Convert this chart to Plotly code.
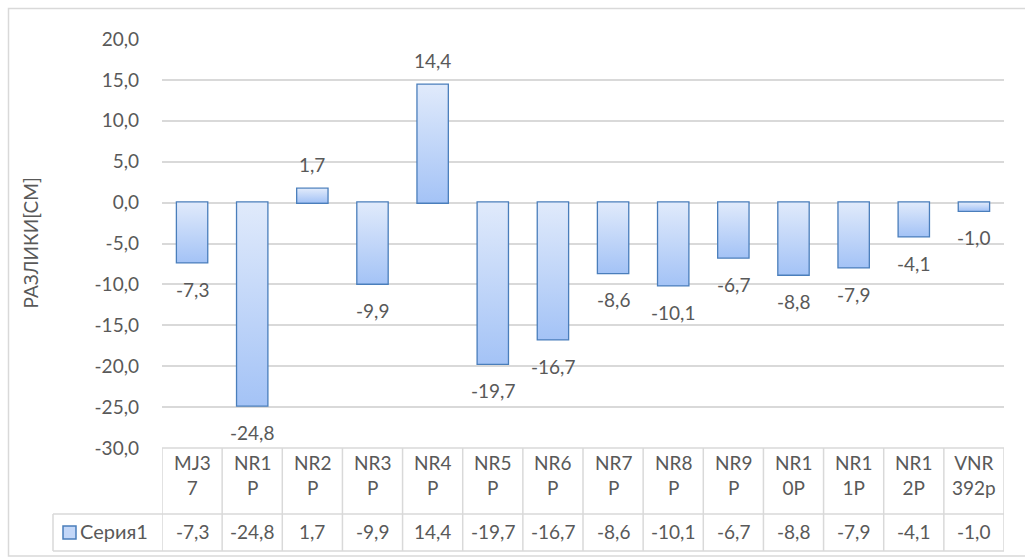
import plotly.graph_objects as go

# ---- data ----
categories = ["MJ37", "NR1P", "NR2P", "NR3P", "NR4P", "NR5P", "NR6P",
              "NR7P", "NR8P", "NR9P", "NR10P", "NR11P", "NR12P", "VNR392p"]
header_labels = ["MJ3<br>7", "NR1<br>P", "NR2<br>P", "NR3<br>P", "NR4<br>P", "NR5<br>P", "NR6<br>P",
                 "NR7<br>P", "NR8<br>P", "NR9<br>P", "NR1<br>0P", "NR1<br>1P", "NR1<br>2P", "VNR<br>392p"]
values = [-7.3, -24.8, 1.7, -9.9, 14.4, -19.7, -16.7, -8.6, -10.1, -6.7, -8.8, -7.9, -4.1, -1.0]
series_name = "Серия1"
y_title = "РАЗЛИКИ[СМ]"
tick_vals = [20, 15, 10, 5, 0, -5, -10, -15, -20, -25, -30]
tick_text = ["20,0", "15,0", "10,0", "5,0", "0,0", "-5,0", "-10,0", "-15,0", "-20,0", "-25,0", "-30,0"]


def fmt(v):
    return f"{v:.1f}".replace(".", ",")


# ---- geometry (pixels) ----
W, H = 1025, 559
PL, PR, PT, PB = 162, 1004, 39, 448
GRID = "#D9D9D9"
TXT = "#595959"
FONT = "Lato"
FS = 19
BAR_W = 0.5
LIGHT, DARK, EDGE = "#E0EAFB", "#A4C3F6", "#4A7EBB"


def px(X):
    return (X - PL) / (PR - PL)


def py(Y):
    return (PB - Y) / (PB - PT)


idx = list(range(len(categories)))
fig = go.Figure()

# gradient fill for each bar (same geometry as the bar, derived from the data)
for i, v in zip(idx, values):
    x0, x1 = i - BAR_W / 2, i + BAR_W / 2
    fig.add_trace(go.Scatter(
        x=[x0, x1, x1, x0, x0], y=[0, 0, v, v, 0], mode="lines", fill="toself",
        line=dict(width=0, color="rgba(0,0,0,0)"),
        fillgradient=dict(type="vertical", colorscale=[[0, DARK], [1, LIGHT]]),
        hoverinfo="skip", showlegend=False,
    ))

fig.add_trace(go.Bar(
    x=idx, y=values, name=series_name, width=BAR_W,
    marker=dict(color="rgba(0,0,0,0)", line=dict(color=EDGE, width=2.6)),
    showlegend=False,
))

annotations = []
for i, v in zip(idx, values):
    annotations.append(dict(x=i, y=v, xref="x", yref="y", text=fmt(v), showarrow=False,
                            yshift=24 if v >= 0 else -27,
                            font=dict(family=FONT, size=FS, color=TXT)))
for i, lab in zip(idx, header_labels):
    annotations.append(dict(x=i, y=py(475), xref="x", yref="paper", text=lab, showarrow=False,
                            font=dict(family=FONT, size=FS, color=TXT), yanchor="middle"))
for i, v in zip(idx, values):
    annotations.append(dict(x=i, y=py(531), xref="x", yref="paper", text=fmt(v), showarrow=False,
                            font=dict(family=FONT, size=FS, color=TXT), yanchor="middle"))
annotations.append(dict(x=px(78), y=py(531), xref="paper", yref="paper", text=series_name,
                        showarrow=False, xanchor="left", yanchor="middle",
                        font=dict(family=FONT, size=20, color=TXT)))
annotations.append(dict(x=px(30), y=0.5, xref="paper", yref="paper", text=y_title,
                        showarrow=False, textangle=-90, xanchor="center", yanchor="middle",
                        font=dict(family=FONT, size=FS, color=TXT)))

shapes = []
lw = 1.5
shapes.append(dict(type="rect", xref="paper", yref="paper", x0=px(8.5), x1=px(1030),
                   y0=py(8.5), y1=py(556), line=dict(color=GRID, width=1.5), layer="below"))
shapes.append(dict(type="line", xref="paper", yref="paper", x0=px(PL), x1=px(PR), y0=py(448), y1=py(448),
                   line=dict(color=GRID, width=lw)))
for Y in (514, 551):
    shapes.append(dict(type="line", xref="paper", yref="paper", x0=px(53), x1=px(PR), y0=py(Y), y1=py(Y),
                       line=dict(color=GRID, width=lw)))
shapes.append(dict(type="line", xref="paper", yref="paper", x0=px(53), x1=px(53), y0=py(514), y1=py(551),
                   line=dict(color=GRID, width=lw)))
for i in range(len(categories) + 1):
    shapes.append(dict(type="line", xref="x", yref="paper", x0=i - 0.5, x1=i - 0.5, y0=py(448), y1=py(551),
                       line=dict(color=GRID, width=lw)))
shapes.append(dict(type="rect", xref="paper", yref="paper", x0=px(63), x1=px(76), y0=py(526), y1=py(539),
                   fillcolor="#C3D7F8", line=dict(color=EDGE, width=1.5)))

fig.update_layout(
    width=W, height=H,
    margin=dict(l=PL, r=W - PR, t=PT, b=H - PB, autoexpand=False),
    paper_bgcolor="white", plot_bgcolor="white",
    font=dict(family=FONT, size=FS, color=TXT),
    xaxis=dict(range=[-0.5, len(categories) - 0.5], showticklabels=False,
               showgrid=False, zeroline=False, showline=False, ticks=""),
    yaxis=dict(range=[-30, 20], tickvals=tick_vals, ticktext=tick_text, showgrid=True,
               gridcolor=GRID, gridwidth=1.5, zeroline=False, showline=False, ticks="",
               ticklabelstandoff=22, tickfont=dict(family=FONT, size=FS, color=TXT)),
    annotations=annotations, shapes=shapes, showlegend=False,
)

fig.write_html("out.html")
